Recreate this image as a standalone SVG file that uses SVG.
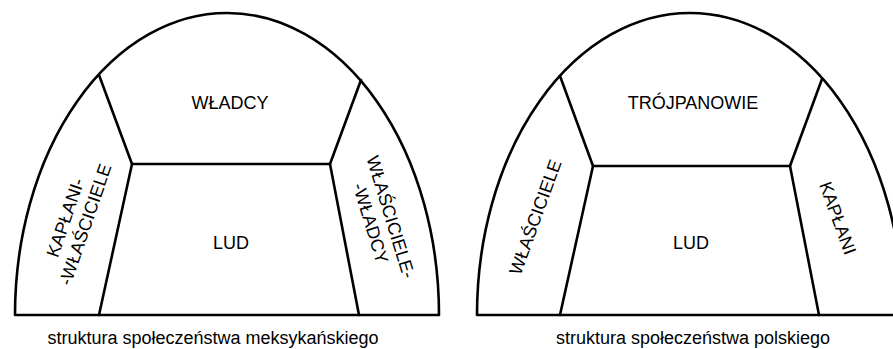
<svg xmlns="http://www.w3.org/2000/svg" width="893" height="349" viewBox="0 0 893 349">
<style>
.ln{fill:none;stroke:#000;stroke-width:2.6;stroke-linejoin:round;stroke-linecap:round}
.t{font-family:"Liberation Sans",Arial,Helvetica,sans-serif;font-size:18px;fill:#000;text-anchor:middle}
</style>
<rect width="893" height="349" fill="#fff"/>
<g id="mexico">
  <g id="mex-outline"><path class="ln" d="M15,315 A212,302 0 0 1 439,315 Z"/></g>
  <g id="mex-connectors">
    <path class="ln" d="M99,75 L132,164 L99,315"/>
    <path class="ln" d="M361,80 L330,164 L359,315"/>
    <path class="ln" d="M132,164 L330,164"/>
  </g>
  <g id="mex-wladcy"><text class="t" x="230" y="109">WŁADCY</text></g>
  <g id="mex-lud"><text class="t" x="231" y="248.5">LUD</text></g>
  <g id="mex-kaplani" transform="translate(75,221) rotate(-71)">
    <text class="t" x="0" y="-4">KAPŁANI-</text>
    <text class="t" x="0" y="17">-WŁAŚCICIELE</text>
  </g>
  <g id="mex-wlasciciele" transform="translate(381,220) rotate(73)">
    <text class="t" x="0" y="-4">WŁAŚCICIELE-</text>
    <text class="t" x="0" y="17">-WŁADCY</text>
  </g>
  <g id="mex-caption"><text class="t" x="213" y="344">struktura społeczeństwa meksykańskiego</text></g>
</g>
<g id="poland">
  <g id="pol-outline"><path class="ln" d="M477,315 A213,302 0 0 1 903,315 Z"/></g>
  <g id="pol-connectors">
    <path class="ln" d="M560,76 L593,166 L560,315"/>
    <path class="ln" d="M822,79 L790,166 L819,315"/>
    <path class="ln" d="M593,166 L790,166"/>
  </g>
  <g id="pol-trojpanowie"><text class="t" x="693" y="109">TRÓJPANOWIE</text></g>
  <g id="pol-lud"><text class="t" x="691" y="248.5">LUD</text></g>
  <g id="pol-wlasciciele" transform="translate(535,217) rotate(-70)"><text class="t" x="0" y="6.5">WŁAŚCICIELE</text></g>
  <g id="pol-kaplani" transform="translate(838,218) rotate(70)"><text class="t" x="0" y="6.5">KAPŁANI</text></g>
  <g id="pol-caption"><text class="t" x="693" y="344">struktura społeczeństwa polskiego</text></g>
</g>
</svg>
